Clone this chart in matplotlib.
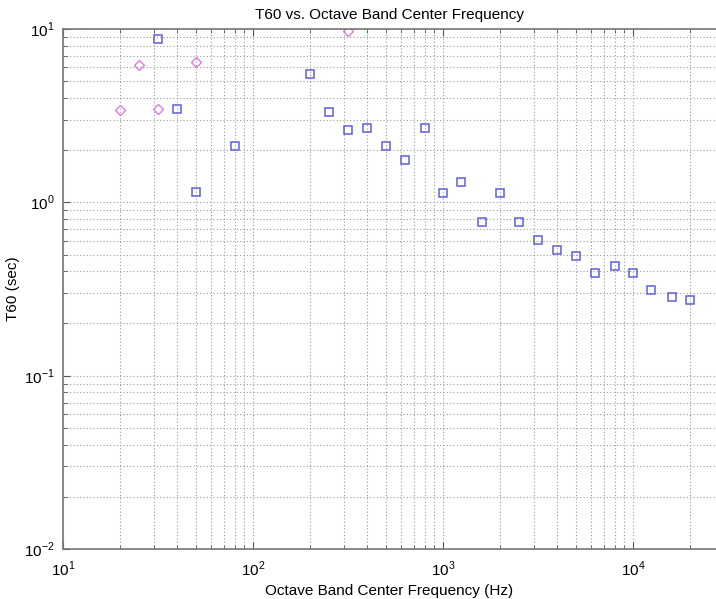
import matplotlib
matplotlib.use("Agg")
import matplotlib.pyplot as plt
from matplotlib.ticker import LogLocator, NullFormatter, FuncFormatter
import numpy as np

plt.rcParams['font.family'] = ['Liberation Sans', 'DejaVu Sans']
plt.rcParams['mathtext.fontset'] = 'custom'
plt.rcParams['mathtext.rm'] = 'Liberation Sans'
plt.rcParams['axes.unicode_minus'] = False

# Magenta diamonds
freq_a = [20, 25, 31.5, 50, 315]
t60_a = [3.41, 6.2, 3.44, 6.45, 9.8]

# Blue squares
freq_b = [31.5, 40, 50, 80, 200, 250, 315, 400, 500, 630, 800, 1000, 1250,
          1600, 2000, 2500, 3150, 4000, 5000, 6300, 8000, 10000, 12500, 16000, 20000]
t60_b = [8.7, 3.44, 1.15, 2.12, 5.5, 3.32, 2.62, 2.68, 2.12, 1.75, 2.68, 1.13, 1.31,
         0.766, 1.13, 0.766, 0.608, 0.532, 0.492, 0.391, 0.427, 0.391, 0.312, 0.284, 0.272]

fig = plt.figure(figsize=(7.16, 5.99), dpi=100)
ax = fig.add_axes([63/716, 1-549/599, 1-63/716, (549-29)/599])

ax.set_xscale('log')
ax.set_yscale('log')
ax.plot(freq_b, t60_b, linestyle='none', marker='s', markersize=6,
        markerfacecolor='none', markeredgecolor='#5f5fdc', markeredgewidth=1.1)
ax.plot(freq_a, t60_a, linestyle='none', marker='D', markersize=5.5,
        markerfacecolor='none', markeredgecolor='#e07ae0', markeredgewidth=1.0)

ax.set_xlim(10, 10**4.437)
ax.set_ylim(0.01, 10)


def fmt(v, pos):
    e = int(round(np.log10(v)))
    return r'$10^{%s}$' % ('-%d' % -e if e < 0 else '%d' % e)


ax.xaxis.set_major_locator(LogLocator(base=10))
ax.yaxis.set_major_locator(LogLocator(base=10))
ax.xaxis.set_minor_locator(LogLocator(base=10, subs=range(2, 10)))
ax.yaxis.set_minor_locator(LogLocator(base=10, subs=range(2, 10)))
ax.xaxis.set_minor_formatter(NullFormatter())
ax.yaxis.set_minor_formatter(NullFormatter())
ax.xaxis.set_major_formatter(FuncFormatter(fmt))
ax.yaxis.set_major_formatter(FuncFormatter(fmt))

ax.grid(True, which='both', linestyle=(0, (1, 2)), color='#9a9a9a', linewidth=0.8)
ax.tick_params(which='both', direction='in', top=True, right=False, colors='#555555',
               labelcolor='black', labelsize=11)
ax.tick_params(which='major', length=5)
ax.tick_params(axis='x', which='major', pad=8)
ax.tick_params(axis='y', which='major', pad=6)
ax.tick_params(which='minor', length=3)
for s in ['left', 'top', 'bottom']:
    ax.spines[s].set_color('#777777')
    ax.spines[s].set_linewidth(1.2)
ax.spines['right'].set_visible(False)

ax.set_title('T60 vs. Octave Band Center Frequency', fontsize=11, pad=7)
ax.set_xlabel('Octave Band Center Frequency (Hz)', fontsize=11, labelpad=3)
ax.set_ylabel('T60 (sec)', fontsize=11)
ax.yaxis.set_label_coords(-0.066, 0.5)

fig.savefig('out.png', dpi=100)
